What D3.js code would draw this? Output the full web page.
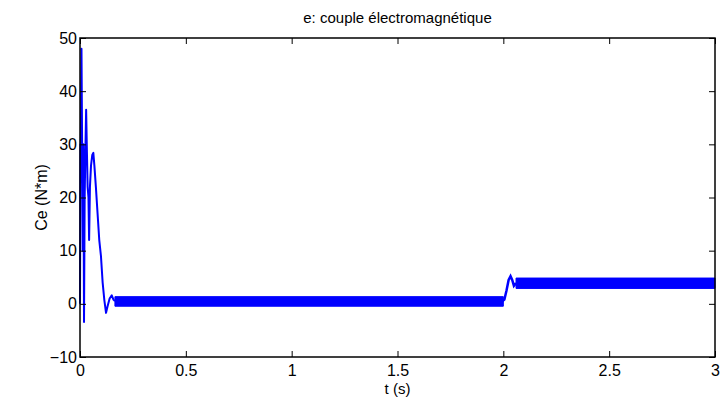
<!DOCTYPE html>
<html>
<head>
<meta charset="utf-8">
<script src="https://cdn.jsdelivr.net/npm/d3@7"></script>
<style>
  body { margin: 0; background: #fff; }
  svg { font-family: "Liberation Sans", Arial, sans-serif; }
</style>
</head>
<body>
<div id="chart"></div>
<script>
// start-up transient of the torque (t in s, Ce in N*m)
const transientT = [0, 0.002, 0.004, 0.007, 0.010, 0.013, 0.016, 0.019, 0.022, 0.026, 0.029, 0.032, 0.036, 0.040, 0.043, 0.047, 0.052, 0.058, 0.063, 0.068, 0.075, 0.083, 0.091, 0.099, 0.107, 0.115, 0.123, 0.130, 0.140, 0.150, 0.158, 0.165];
const transientCe = [0, 30, 30, 48, 30, 10, 30, -3.4, 20, 30, 36.5, 30, 22, 20, 12, 22, 26, 28, 28.4, 26, 22, 17, 12, 9, 4, 0.7, -1.7, -0.5, 1.0, 1.6, 0.8, 0.5];

// load step at t = 2 s
const stepT = [1.995, 2.005, 2.015, 2.025, 2.034, 2.042, 2.050, 2.060];
const stepCe = [0.5, 0.8, 2.5, 4.5, 5.2, 4.5, 3.4, 3.9];

// ripple envelope (min / max of the fast oscillation)
const rippleT = [0.165, 2.0, 2.0, 2.06, 3.0];
const rippleLo = [-0.45, -0.45, NaN, 2.9, 2.9];
const rippleHi = [1.35, 1.35, NaN, 4.85, 4.85];

const xTicks = [0, 0.5, 1, 1.5, 2, 2.5, 3];
const yTicks = [-10, 0, 10, 20, 30, 40, 50];

const W = 728, H = 398;
const margin = { top: 38, right: 13, bottom: 41, left: 80 };
const width = W - margin.left - margin.right;
const height = H - margin.top - margin.bottom;

const svg = d3.select('#chart').append('svg')
  .attr('width', W).attr('height', H);
const g = svg.append('g')
  .attr('transform', `translate(${margin.left},${margin.top})`);

const x = d3.scaleLinear().domain([0, 3]).range([0, width]);
const y = d3.scaleLinear().domain([-10, 50]).range([height, 0]);

const blue = '#0000ff';

// ripple band
const band = rippleT.map((t, i) => ({ t, lo: rippleLo[i], hi: rippleHi[i] }));
g.append('path')
  .datum(band)
  .attr('fill', blue)
  .attr('stroke', blue)
  .attr('stroke-width', 1)
  .attr('d', d3.area()
    .defined(d => !isNaN(d.lo))
    .x(d => x(d.t)).y0(d => y(d.lo)).y1(d => y(d.hi)));

const line = d3.line().x(d => x(d[0])).y(d => y(d[1]));

g.append('path')
  .datum(transientT.map((t, i) => [t, transientCe[i]]))
  .attr('fill', 'none').attr('stroke', blue).attr('stroke-width', 2)
  .attr('stroke-linejoin', 'round')
  .attr('d', line);

g.append('path')
  .datum(stepT.map((t, i) => [t, stepCe[i]]))
  .attr('fill', 'none').attr('stroke', blue).attr('stroke-width', 2.5)
  .attr('d', line);

// axes (MATLAB style: ticks inside, box)
const tickLen = 6;
const style = sel => {
  sel.select('.domain').remove();
  sel.selectAll('.tick line').attr('stroke', '#000');
  sel.selectAll('.tick text').attr('fill', '#000').style('font-size', '16px');
};

g.append('g').attr('transform', `translate(0,${height})`)
  .call(d3.axisBottom(x).tickValues(xTicks).tickFormat(d3.format('')).tickSizeInner(-tickLen).tickSizeOuter(0).tickPadding(8))
  .call(style);
g.append('g')
  .call(d3.axisTop(x).tickValues(xTicks).tickFormat('').tickSizeInner(-tickLen).tickSizeOuter(0))
  .call(style);
g.append('g')
  .call(d3.axisLeft(y).tickValues(yTicks).tickFormat(d3.format('')).tickSizeInner(-tickLen).tickSizeOuter(0).tickPadding(3))
  .call(style);
g.append('g').attr('transform', `translate(${width},0)`)
  .call(d3.axisRight(y).tickValues(yTicks).tickFormat('').tickSizeInner(-tickLen).tickSizeOuter(0))
  .call(style);

g.append('rect')
  .attr('width', width).attr('height', height)
  .attr('fill', 'none').attr('stroke', '#000').attr('stroke-width', 1.5);

svg.append('text')
  .attr('x', margin.left + width / 2).attr('y', 23)
  .attr('text-anchor', 'middle').style('font-size', '15px')
  .text('e: couple électromagnétique');

svg.append('text')
  .attr('x', margin.left + width / 2).attr('y', 394)
  .attr('text-anchor', 'middle').style('font-size', '15px')
  .text('t (s)');

svg.append('text')
  .attr('transform', `translate(47,${margin.top + height / 2}) rotate(-90)`)
  .attr('text-anchor', 'middle').style('font-size', '16px')
  .text('Ce (N*m)');
</script>
</body>
</html>
